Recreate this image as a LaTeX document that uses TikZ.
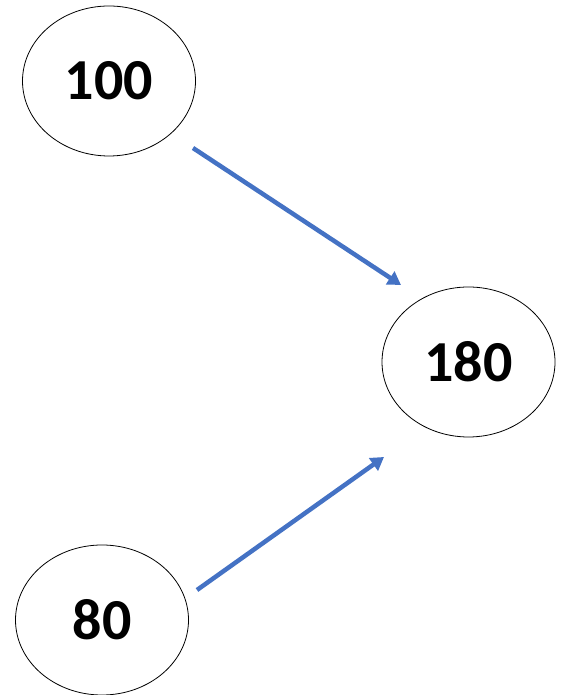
\documentclass[tikz,border=0pt]{standalone}
\usepackage{fontspec}
\setmainfont{Carlito}
\usetikzlibrary{arrows.meta,shapes.geometric}
\definecolor{arrowblue}{HTML}{4472C4}
\tikzset{
  num/.style={draw=black, line width=0.8pt, ellipse, minimum width=173pt, minimum height=150pt, inner sep=0pt, font=\fontsize{58}{60}\selectfont\bfseries},
  conn/.style={draw=arrowblue, line width=4.5pt, -{Triangle[length=13pt,width=15pt]}}
}
\begin{document}
\begin{tikzpicture}[x=1pt,y=1pt]
\useasboundingbox (0,0) rectangle (562,695);
\node[num] (a) at (109,614) {100};
\node[num] (b) at (468.5,333) {180};
\node[num] (c) at (102,75) {80};
\coordinate (a1) at (193,547);
\coordinate (b1) at (401,410);
\coordinate (c1) at (197,105);
\coordinate (b2) at (384,238);
\draw[conn] (a1) -- (b1);
\draw[conn] (c1) -- (b2);
\end{tikzpicture}
\end{document}
